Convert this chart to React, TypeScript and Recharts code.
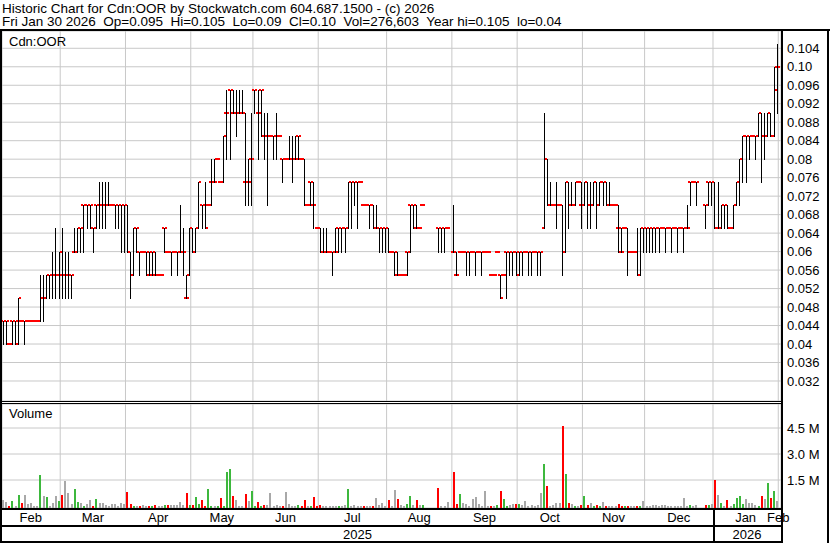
import React from "react";
import { ComposedChart, Bar, XAxis, YAxis, CartesianGrid } from "recharts";

// months along the bottom, and the trading-day index where each one starts
const monthLabels = ["Feb", "Mar", "Apr", "May", "Jun", "Jul", "Aug", "Sep", "Oct", "Nov", "Dec", "Jan", "Feb"];
const monthStarts = [0, 19, 40, 61, 81, 102, 124, 145, 166, 187, 207, 229, 250];
const yearLabels = ["2025", "2026"];

const priceTicks = [0.032, 0.036, 0.04, 0.044, 0.048, 0.052, 0.056, 0.06, 0.064, 0.068, 0.072, 0.076, 0.08, 0.084, 0.088, 0.092, 0.096, 0.1, 0.104];
const priceTickLabels = ["0.032", "0.036", "0.04", "0.044", "0.048", "0.052", "0.056", "0.06", "0.064", "0.068", "0.072", "0.076", "0.08", "0.084", "0.088", "0.092", "0.096", "0.10", "0.104"];
const volumeTicks = [1500000, 3000000, 4500000];
const volumeTickLabels = ["1.5 M", "3.0 M", "4.5 M"];

// daily bars, one line per month (null = no trade that day)
const opens = [
  0.045, 0.045, 0.04, 0.045, 0.045, 0.04, 0.045, 0.045, 0.045, 0.045, 0.045, 0.045, 0.045, 0.05, 0.05, 0.055, 0.055, 0.055, 0.055,
  0.055, 0.055, 0.055, 0.055, 0.06, 0.06, 0.065, 0.07, 0.07, 0.07, 0.065, 0.07, 0.07, 0.07, 0.07, 0.07, 0.07, 0.07, 0.07, 0.07, 0.07,
  0.07, 0.06, 0.055, 0.065, 0.06, 0.06, 0.06, 0.055, 0.06, 0.055, 0.055, 0.055, 0.065, 0.06, 0.06, 0.06, 0.06, 0.06, 0.06, 0.05, 0.055,
  0.065, 0.06, 0.065, 0.07, 0.07, 0.07, 0.075, 0.075, 0.08, 0.075, 0.075, 0.09, 0.095, 0.09, 0.09, 0.09, 0.09, 0.075, 0.075, 0.08,
  0.095, 0.09, 0.095, 0.085, 0.085, 0.085, 0.085, 0.085, 0.085, 0.08, 0.08, 0.08, 0.08, 0.08, 0.085, 0.08, 0.08, 0.07, 0.075, 0.07, 0.065,
  0.065, 0.06, 0.06, 0.06, 0.06, 0.06, 0.065, 0.065, 0.065, 0.065, 0.075, 0.075, 0.075, 0.075, 0.07, 0.07, 0.07, 0.07, 0.065, 0.065, 0.065, 0.065,
  0.065, 0.06, 0.06, 0.055, 0.055, 0.055, 0.06, 0.07, 0.07, 0.065, 0.065, 0.07, null, null, null, null, 0.065, 0.065, 0.065, 0.065, null,
  0.06, 0.055, 0.06, 0.06, 0.06, 0.06, 0.06, 0.06, 0.06, 0.06, 0.06, 0.06, 0.055, 0.055, 0.06, 0.055, 0.055, 0.06, 0.06, 0.06, 0.06,
  0.06, 0.06, 0.06, 0.06, 0.06, 0.06, 0.06, 0.06, 0.065, 0.08, 0.07, 0.07, 0.07, 0.07, 0.07, 0.06, 0.075, 0.07, 0.07, 0.075, 0.07,
  0.07, 0.075, 0.07, 0.07, 0.075, 0.07, 0.075, 0.075, 0.07, 0.07, 0.07, 0.065, 0.06, 0.065, 0.065, 0.06, 0.06, 0.06, 0.055, 0.065,
  0.065, 0.065, 0.065, 0.065, 0.065, 0.065, 0.065, 0.065, 0.065, 0.065, 0.065, 0.065, 0.065, 0.065, 0.075, 0.075, 0.075, null, null, 0.07, 0.075, 0.075,
  0.075, 0.065, 0.065, 0.07, 0.07, 0.065, 0.065, 0.07, 0.075, 0.08, 0.085, 0.085, 0.085, 0.085, 0.085, 0.09, 0.085, 0.085, 0.09, 0.085, 0.095,
];
const highs = [
  0.045, 0.045, 0.04, 0.045, 0.045, 0.05, 0.045, 0.045, 0.045, 0.045, 0.045, 0.045, 0.055, 0.055, 0.055, 0.055, 0.06, 0.065, 0.06,
  0.065, 0.06, 0.06, 0.055, 0.065, 0.065, 0.065, 0.07, 0.07, 0.07, 0.065, 0.07, 0.075, 0.075, 0.075, 0.075, 0.07, 0.07, 0.07, 0.07, 0.07,
  0.07, 0.06, 0.065, 0.065, 0.06, 0.06, 0.06, 0.06, 0.06, 0.06, 0.055, 0.055, 0.065, 0.06, 0.06, 0.06, 0.06, 0.07, 0.065, 0.055, 0.065,
  0.065, 0.065, 0.075, 0.07, 0.075, 0.07, 0.08, 0.08, 0.08, 0.075, 0.085, 0.095, 0.095, 0.095, 0.095, 0.095, 0.095, 0.09, 0.08, 0.09,
  0.095, 0.095, 0.095, 0.09, 0.09, 0.085, 0.085, 0.09, 0.085, 0.08, 0.08, 0.085, 0.085, 0.085, 0.085, 0.08, 0.08, 0.07, 0.075, 0.075, 0.065,
  0.065, 0.065, 0.065, 0.06, 0.06, 0.065, 0.065, 0.065, 0.065, 0.075, 0.075, 0.075, 0.075, 0.075, 0.07, 0.07, 0.07, 0.07, 0.07, 0.065, 0.065, 0.065,
  0.065, 0.06, 0.06, 0.06, 0.055, 0.055, 0.06, 0.07, 0.07, 0.07, 0.065, 0.07, null, null, null, null, 0.065, 0.065, 0.065, 0.065, null,
  0.07, 0.06, 0.06, 0.06, 0.06, 0.06, 0.06, 0.06, 0.06, 0.06, 0.06, 0.06, 0.055, 0.055, 0.06, 0.055, 0.055, 0.06, 0.06, 0.06, 0.06,
  0.06, 0.06, 0.06, 0.06, 0.06, 0.06, 0.06, 0.06, 0.09, 0.08, 0.075, 0.07, 0.075, 0.07, 0.07, 0.075, 0.075, 0.075, 0.075, 0.075, 0.075,
  0.075, 0.075, 0.075, 0.075, 0.075, 0.075, 0.075, 0.075, 0.075, 0.07, 0.07, 0.07, 0.065, 0.065, 0.065, 0.06, 0.06, 0.065, 0.065, 0.065,
  0.065, 0.065, 0.065, 0.065, 0.065, 0.065, 0.065, 0.065, 0.065, 0.065, 0.065, 0.065, 0.065, 0.07, 0.075, 0.075, 0.075, null, null, 0.07, 0.075, 0.075,
  0.075, 0.075, 0.07, 0.07, 0.07, 0.065, 0.07, 0.075, 0.08, 0.085, 0.085, 0.085, 0.085, 0.085, 0.09, 0.09, 0.09, 0.09, 0.09, 0.1, 0.105,
];
const lows = [
  0.04, 0.04, 0.04, 0.04, 0.04, 0.04, 0.045, 0.04, 0.045, 0.045, 0.045, 0.045, 0.045, 0.045, 0.05, 0.05, 0.05, 0.05, 0.05,
  0.05, 0.05, 0.05, 0.05, 0.06, 0.06, 0.06, 0.06, 0.065, 0.065, 0.06, 0.065, 0.065, 0.065, 0.065, 0.07, 0.07, 0.065, 0.065, 0.06, 0.06,
  0.06, 0.05, 0.055, 0.06, 0.055, 0.06, 0.055, 0.055, 0.055, 0.055, 0.055, 0.055, 0.06, 0.06, 0.055, 0.06, 0.055, 0.06, 0.055, 0.05, 0.055,
  0.06, 0.06, 0.065, 0.065, 0.065, 0.07, 0.07, 0.075, 0.08, 0.075, 0.075, 0.08, 0.08, 0.09, 0.085, 0.09, 0.09, 0.07, 0.07, 0.07,
  0.09, 0.08, 0.085, 0.08, 0.07, 0.085, 0.08, 0.08, 0.085, 0.075, 0.08, 0.08, 0.075, 0.08, 0.08, 0.08, 0.07, 0.07, 0.07, 0.065, 0.065,
  0.06, 0.06, 0.06, 0.06, 0.055, 0.06, 0.06, 0.06, 0.06, 0.065, 0.065, 0.07, 0.065, 0.075, 0.07, 0.07, 0.065, 0.065, 0.065, 0.06, 0.06, 0.06,
  0.06, 0.06, 0.055, 0.055, 0.055, 0.055, 0.055, 0.06, 0.065, 0.065, 0.065, 0.07, null, null, null, null, 0.06, 0.06, 0.06, 0.065, null,
  0.06, 0.055, 0.06, 0.06, 0.055, 0.055, 0.06, 0.055, 0.06, 0.055, 0.06, 0.06, 0.055, 0.055, 0.06, 0.05, 0.055, 0.05, 0.055, 0.055, 0.055,
  0.055, 0.055, 0.06, 0.055, 0.055, 0.06, 0.055, 0.055, 0.065, 0.07, 0.07, 0.07, 0.065, 0.07, 0.055, 0.06, 0.065, 0.07, 0.07, 0.075, 0.065,
  0.07, 0.065, 0.065, 0.07, 0.065, 0.07, 0.07, 0.07, 0.07, 0.07, 0.07, 0.06, 0.06, 0.065, 0.055, 0.06, 0.06, 0.055, 0.055, 0.06,
  0.06, 0.06, 0.06, 0.06, 0.06, 0.065, 0.06, 0.065, 0.06, 0.065, 0.06, 0.065, 0.06, 0.065, 0.07, 0.075, 0.07, null, null, 0.065, 0.07, 0.07,
  0.065, 0.065, 0.065, 0.065, 0.065, 0.065, 0.065, 0.07, 0.07, 0.075, 0.075, 0.08, 0.085, 0.08, 0.085, 0.075, 0.08, 0.085, 0.085, 0.085, 0.09,
];
const closes = [
  0.045, 0.045, 0.04, 0.045, 0.045, 0.05, 0.045, 0.045, 0.045, 0.045, 0.045, 0.045, 0.05, 0.05, 0.055, 0.055, 0.055, 0.055, 0.06,
  0.055, 0.055, 0.055, 0.055, 0.06, 0.065, 0.065, 0.07, 0.07, 0.07, 0.065, 0.07, 0.07, 0.07, 0.07, 0.07, 0.07, 0.07, 0.07, 0.07, 0.07,
  0.06, 0.055, 0.065, 0.065, 0.06, 0.06, 0.06, 0.055, 0.06, 0.055, 0.055, 0.055, 0.065, 0.06, 0.06, 0.06, 0.06, 0.06, 0.06, 0.05, 0.065,
  0.06, 0.065, 0.075, 0.07, 0.065, 0.07, 0.075, 0.075, 0.08, 0.075, 0.085, 0.09, 0.095, 0.09, 0.09, 0.09, 0.09, 0.075, 0.075, 0.08,
  0.095, 0.09, 0.095, 0.085, 0.085, 0.085, 0.085, 0.085, 0.085, 0.08, 0.08, 0.08, 0.08, 0.08, 0.085, 0.08, 0.07, 0.07, 0.075, 0.07, 0.065,
  0.06, 0.06, 0.06, 0.06, 0.06, 0.06, 0.065, 0.065, 0.065, 0.075, 0.075, 0.075, 0.075, 0.075, 0.07, 0.07, 0.07, 0.065, 0.065, 0.065, 0.065, 0.065,
  0.06, 0.06, 0.06, 0.055, 0.055, 0.055, 0.06, 0.07, 0.07, 0.065, 0.065, 0.07, null, null, null, null, 0.065, 0.065, 0.065, 0.065, null,
  0.06, 0.055, 0.06, 0.06, 0.06, 0.06, 0.06, 0.06, 0.06, 0.06, 0.06, 0.06, 0.055, 0.055, 0.06, 0.05, 0.055, 0.06, 0.06, 0.06, 0.055,
  0.06, 0.06, 0.06, 0.06, 0.06, 0.06, 0.06, 0.06, 0.08, 0.07, 0.07, 0.07, 0.07, 0.07, 0.06, 0.075, 0.07, 0.07, 0.075, 0.075, 0.07,
  0.075, 0.07, 0.07, 0.075, 0.07, 0.075, 0.075, 0.07, 0.07, 0.07, 0.07, 0.065, 0.06, 0.065, 0.06, 0.06, 0.06, 0.055, 0.065, 0.065,
  0.065, 0.065, 0.065, 0.065, 0.065, 0.065, 0.065, 0.065, 0.065, 0.065, 0.065, 0.065, 0.065, 0.065, 0.075, 0.075, 0.075, null, null, 0.07, 0.075, 0.075,
  0.065, 0.065, 0.07, 0.07, 0.065, 0.065, 0.07, 0.075, 0.08, 0.085, 0.085, 0.085, 0.085, 0.085, 0.09, 0.085, 0.085, 0.09, 0.085, 0.1, 0.1,
];
const volumes = [
  340000, 240000, 20000, 280000, 20000, 630000, 180000, 630000, 130000, 160000, 20000, 20000, 1790000, 570000, 530000, 20000, 180000, 570000, 280000,
  650000, 1440000, 750000, 130000, 980000, 220000, 160000, 20000, 100000, 340000, 20000, 400000, 160000, 160000, 50000, 20000, 100000, 100000, 20000, 160000, 100000,
  800000, 100000, 20000, 20000, 20000, 50000, 20000, 20000, 20000, 60000, 20000, 20000, 40000, 80000, 80000, 80000, 80000, 250000, 80000, 750000, 80000,
  40000, 510000, 100000, 340000, 20000, 980000, 20000, 20000, 20000, 450000, 20000, 1960000, 2130000, 570000, 340000, 20000, 20000, 690000, 280000, 860000,
  20000, 220000, 20000, 40000, 80000, 750000, 20000, 40000, 20000, 20000, 800000, 100000, 20000, 20000, 40000, 20000, 340000, 20000, 20000, 510000, 20000,
  40000, 20000, 20000, 20000, 20000, 20000, 20000, 20000, 80000, 980000, 20000, 80000, 20000, 20000, 20000, 20000, 20000, 20000, 450000, 80000, 160000, 20000,
  340000, 20000, 920000, 400000, 40000, 20000, 100000, 570000, 80000, 340000, 80000, 80000, 0, 0, 0, 0, 1030000, 20000, 20000, 220000, 0,
  1960000, 100000, 690000, 160000, 100000, 20000, 400000, 510000, 100000, 20000, 860000, 20000, 20000, 20000, 40000, 860000, 400000, 20000, 40000, 100000, 100000,
  100000, 40000, 270000, 20000, 80000, 20000, 40000, 750000, 2430000, 1170000, 20000, 80000, 160000, 160000, 4630000, 1840000, 160000, 100000, 20000, 20000, 80000,
  570000, 80000, 160000, 20000, 40000, 20000, 220000, 20000, 20000, 20000, 20000, 100000, 20000, 20000, 20000, 20000, 20000, 20000, 20000, 280000,
  20000, 20000, 40000, 40000, 20000, 60000, 40000, 20000, 20000, 20000, 20000, 20000, 450000, 20000, 80000, 20000, 40000, 0, 0, 80000, 60000, 100000,
  1510000, 620000, 160000, 20000, 330000, 20000, 100000, 470000, 580000, 100000, 390000, 160000, 180000, 40000, 20000, 560000, 390000, 1320000, 450000, 850000, 276603,
];

const W = 830;
const PLOT_LEFT = 2;
const AXIS_W = 49;
const PLOT_W = W - PLOT_LEFT - AXIS_W;
const X_DOMAIN: [number, number] = [-0.225, 250.38];
const PRICE_DOMAIN: [number, number] = [0.02767, 0.10774];
const VOL_DOMAIN: [number, number] = [-115000, 5885000];

const GREEN = "#3db83d";
const RED = "#ff0000";
const GRAY = "#a8a8a8";
const GRID = "#c8c8c8";
const FONT = "'Liberation Sans', Arial, Helvetica, sans-serif";

const boundaries = monthStarts.slice(1).map((s) => s - 0.5);
const monthMids = monthLabels.map((_, k) =>
  k < monthStarts.length - 1 ? (Math.max(monthStarts[k] - 0.5, -0.5) + monthStarts[k + 1] - 0.5) / 2 : monthStarts[k] - 0.5
);
const yearSplit = monthStarts[11] - 0.5;
const yearMids = [(X_DOMAIN[0] + yearSplit) / 2, (yearSplit + X_DOMAIN[1]) / 2];

const xPx = (v: number) => PLOT_LEFT + ((v - X_DOMAIN[0]) / (X_DOMAIN[1] - X_DOMAIN[0])) * PLOT_W;

let prevClose: number | null = null;
const rows = closes.map((c, i) => {
  let color = GRAY;
  if (c != null && prevClose != null) color = c > prevClose ? GREEN : c < prevClose ? RED : GRAY;
  if (c != null) prevClose = c;
  const h = highs[i];
  const l = lows[i];
  const v = volumes[i];
  return {
    i,
    o: opens[i],
    h,
    l,
    c,
    hl: h == null || l == null ? undefined : [l, h],
    v,
    vr: v > 0 ? [VOL_DOMAIN[0], v] : undefined,
    color,
  };
});

// vertical high-low line, open tick on the left, close tick on the right
function OhlcShape(props: any) {
  const { x, y, width, height, payload } = props;
  if (!payload || payload.h == null) return <g />;
  const top = Math.min(y, y + height);
  const bottom = Math.max(y, y + height);
  const cx = Math.floor(x + width / 2) + 0.5;
  const span = payload.h - payload.l;
  const at = (v: number) => Math.round(span > 0 ? top + ((payload.h - v) / span) * (bottom - top) : top);
  const yh = at(payload.h);
  const yl = at(payload.l);
  const yo = at(payload.o);
  const yc = at(payload.c);
  return (
    <g>
      {yl > yh ? (
        <line x1={cx} x2={cx} y1={yh} y2={yl + 1} stroke="#000" strokeWidth={1} />
      ) : (
        <rect x={cx - 0.5} y={yh - 1} width={1} height={2} fill={RED} />
      )}
      <rect x={cx - 2.5} y={yo - 1} width={2} height={2} fill={RED} />
      <rect x={cx + 0.5} y={yc - 1} width={2} height={2} fill={RED} />
    </g>
  );
}

function VolShape(props: any) {
  const { x, y, width, height, payload } = props;
  if (!payload || !(payload.v > 0)) return <g />;
  const cx = Math.round(x + width / 2);
  const top = Math.round(Math.min(y, y + height));
  const bottom = Math.round(Math.max(y, y + height));
  return <rect x={cx - 1} y={top} width={2} height={Math.max(1, bottom - top)} fill={payload.color} />;
}

const tickStyle = { fill: "#000", fontSize: 13, fontFamily: FONT };

function Rule({ left, top, width, height }: { left: number; top: number; width: number; height: number }) {
  return <div style={{ position: "absolute", left, top, width, height, background: "#000" }} />;
}

export default function App() {
  return (
    <div style={{ position: "absolute", left: 0, top: 0, width: W, height: 543, background: "#fff", overflow: "hidden", fontFamily: FONT }}>
      <div style={{ position: "absolute", left: 0, top: 0 }}>
        <ComposedChart width={W} height={401} data={rows} margin={{ top: 31, right: 0, bottom: 0, left: PLOT_LEFT }}>
          <CartesianGrid stroke={GRID} xAxisId="grid" yAxisId="p" />
          <XAxis xAxisId="grid" dataKey="i" type="number" domain={X_DOMAIN} ticks={boundaries} allowDataOverflow hide height={0} />
          <YAxis
            yAxisId="p"
            orientation="right"
            width={AXIS_W}
            domain={PRICE_DOMAIN}
            ticks={priceTicks}
            allowDataOverflow
            interval={0}
            axisLine={false}
            tickLine={false}
            tickSize={0}
            tickMargin={6}
            tick={tickStyle}
            tickFormatter={(v: number) => priceTickLabels[priceTicks.indexOf(v)]}
          />
          <Bar xAxisId="grid" yAxisId="p" dataKey="hl" barSize={2} shape={(p: any) => <OhlcShape {...p} />} isAnimationActive={false} />
        </ComposedChart>
      </div>
      <div style={{ position: "absolute", left: 0, top: 0 }}>
        <ComposedChart width={W} height={543} data={rows} margin={{ top: 404, right: 0, bottom: 2, left: PLOT_LEFT }}>
          <CartesianGrid stroke={GRID} xAxisId="grid" yAxisId="v" />
          <XAxis
            xAxisId="month"
            dataKey="i"
            type="number"
            domain={X_DOMAIN}
            ticks={monthMids}
            allowDataOverflow
            interval={0}
            height={18}
            axisLine={false}
            tickLine={false}
            tickSize={0}
            tickMargin={5}
            tick={tickStyle}
            tickFormatter={(v: number) => monthLabels[monthMids.indexOf(v)]}
          />
          <XAxis
            xAxisId="year"
            dataKey="i"
            type="number"
            domain={X_DOMAIN}
            ticks={yearMids}
            allowDataOverflow
            interval={0}
            height={15}
            axisLine={false}
            tickLine={false}
            tickSize={0}
            tickMargin={4}
            tick={tickStyle}
            tickFormatter={(v: number) => yearLabels[yearMids.indexOf(v)]}
          />
          <XAxis xAxisId="grid" dataKey="i" type="number" domain={X_DOMAIN} ticks={boundaries} allowDataOverflow hide height={0} />
          <YAxis
            yAxisId="v"
            orientation="right"
            width={AXIS_W}
            domain={VOL_DOMAIN}
            ticks={volumeTicks}
            allowDataOverflow
            interval={0}
            axisLine={false}
            tickLine={false}
            tickSize={0}
            tickMargin={6}
            tick={tickStyle}
            tickFormatter={(v: number) => volumeTickLabels[volumeTicks.indexOf(v)]}
          />
          <Bar xAxisId="grid" yAxisId="v" dataKey="vr" barSize={2} shape={(p: any) => <VolShape {...p} />} isAnimationActive={false} />
        </ComposedChart>
      </div>

      <div style={{ position: "absolute", left: 2, top: 2, fontSize: 13.5, lineHeight: "13px", whiteSpace: "pre", color: "#000" }}>
        {"Historic Chart for Cdn:OOR by Stockwatch.com 604.687.1500 - (c) 2026\nFri Jan 30 2026  Op=0.095  Hi=0.105  Lo=0.09  Cl=0.10  Vol=276,603  Year hi=0.105  lo=0.04"}
      </div>
      <div style={{ position: "absolute", left: 9, top: 35, fontSize: 13, lineHeight: "13px", color: "#000" }}>Cdn:OOR</div>
      <div style={{ position: "absolute", left: 9, top: 407, fontSize: 13, lineHeight: "13px", color: "#000" }}>Volume</div>

      <Rule left={0} top={29} width={W} height={2} />
      <Rule left={0} top={29} width={2} height={514} />
      <Rule left={PLOT_LEFT + PLOT_W} top={29} width={2} height={513} />
      <Rule left={827} top={29} width={2} height={514} />
      <Rule left={0} top={401} width={PLOT_LEFT + PLOT_W + 2} height={1} />
      <Rule left={0} top={403} width={PLOT_LEFT + PLOT_W + 2} height={1} />
      <Rule left={0} top={508} width={PLOT_LEFT + PLOT_W + 2} height={2} />
      <Rule left={0} top={525} width={PLOT_LEFT + PLOT_W + 2} height={2} />
      <Rule left={0} top={541} width={PLOT_LEFT + PLOT_W + 2} height={2} />
      <Rule left={Math.round(xPx(yearSplit))} top={510} width={2} height={31} />
    </div>
  );
}
